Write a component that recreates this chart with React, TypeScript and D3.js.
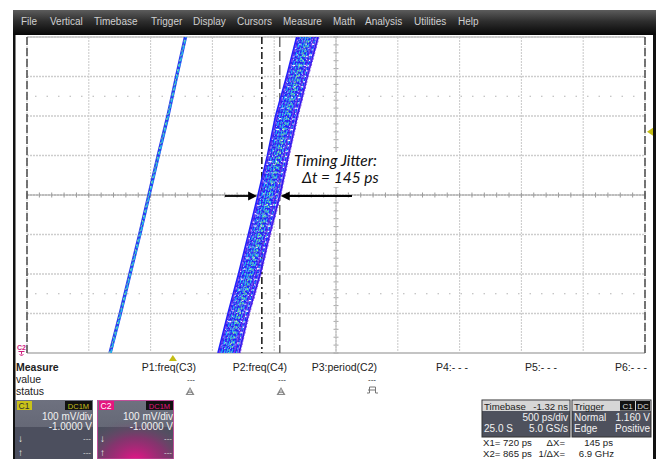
import React from 'react';
import * as d3 from 'd3';

// ---------- screen data ----------
const menuItems = ['File', 'Vertical', 'Timebase', 'Trigger', 'Display', 'Cursors', 'Measure', 'Math', 'Analysis', 'Utilities', 'Help'];

// time axis (ps) and vertical settings
const timeCenterPs = 1320;
const psPerDiv = 500;
const mvPerDiv = 100;
const offsetV = -1.0;
const triggerLevelV = 1.16;
const triggerTimePs = 0;

// cursors (ps)
const cursorX1 = 720;
const cursorX2 = 865;

// voltage levels (V) at which each captured edge is sampled
const levelsV = [0.6, 0.7, 0.8, 0.9, 1.0, 1.1, 1.2, 1.3, 1.4];

// C1 reference edge: crossing time (ps) per level, three overlapping captures
const refEdge = [
  [-508, -425, -347, -268, -193, -118, -40, 30, 102],
  [-502, -421, -343, -263, -190, -113, -37, 34, 106],
  [-512, -428, -350, -272, -196, -122, -44, 27, 99],
];

// jittered edge captures: crossing time (ps) per level
const jitterEdges = [
  [366, 447, 532, 612, 690, 766, 832, 921, 1003],
  [378, 455, 548, 624, 706, 774, 848, 929, 1016],
  [386, 470, 556, 640, 714, 790, 857, 944, 1027],
  [400, 476, 570, 646, 728, 796, 870, 952, 1038],
  [409, 492, 579, 661, 736, 812, 878, 966, 1048],
  [422, 498, 592, 668, 750, 818, 892, 974, 1060],
  [428, 512, 598, 682, 756, 832, 898, 987, 1068],
  [442, 518, 612, 688, 770, 838, 912, 993, 1081],
  [448, 532, 618, 702, 776, 852, 918, 1007, 1087],
  [462, 538, 632, 708, 790, 858, 932, 1013, 1100],
  [468, 552, 638, 722, 796, 872, 938, 1027, 1107],
  [482, 558, 652, 728, 810, 878, 952, 1033, 1121],
  [489, 574, 660, 744, 818, 894, 960, 1049, 1129],
  [506, 582, 676, 752, 834, 902, 976, 1057, 1145],
  [514, 600, 686, 770, 844, 920, 986, 1075, 1155],
  [536, 612, 706, 782, 866, 934, 1006, 1087, 1175],
];

const measureHeaders = ['P1:freq(C3)', 'P2:freq(C4)', 'P3:period(C2)', 'P4:- - -', 'P5:- - -', 'P6:- - -'];
const measureValues = ['---', '---', '---', '', '', ''];

const jitterTitle = 'Timing Jitter:';

// ---------- layout ----------
const W = 660;
const H = 459;
const plot = { left: 27, right: 645, top: 37, bottom: 353 };
const menuLayoutX = [21, 50, 94, 151, 193, 237, 283, 333, 365, 414, 458];
const measureRightX = [196, 287, 377, 468, 557, 647];
const uiFont = "'Liberation Sans', Arial, sans-serif";

const x = d3.scaleLinear()
  .domain([timeCenterPs - 5 * psPerDiv, timeCenterPs + 5 * psPerDiv])
  .range([plot.left, plot.right]);
const centerV = -offsetV;
const y = d3.scaleLinear()
  .domain([centerV - 4 * mvPerDiv / 1000, centerV + 4 * mvPerDiv / 1000])
  .range([plot.bottom, plot.top]);

const edgeLine = d3.line<number>()
  .x((t) => x(t))
  .y((_, i) => y(levelsV[i]));

const baseColors = ['#1e22ff', '#3a1ee6', '#1a2cff', '#2a1af0'];
const baseDash = [undefined, '7 1.5', '5 1 2 1', '9 2', '4 1.5'];
const overlayColors = ['#7a3ce6', '#5e6cff', '#20c4ee', '#7a3ce6', '#2ad0e8', '#6a48f0', '#26c6ea', '#8ee88a',
  '#22c8ee', '#9be69a', '#2bc2ea', '#5f5cff', '#7a3ce6', '#24beea', '#6d44ee', '#7a3ce6'];
const overlayDash = ['3 2', '2 3', '4 2 1 2', '1 2', '3 1', '2 2 1 3', '5 2', '1 1 2 2'];

export default function App() {
  const vTicks = d3.range(0, 11).map((k) => x.domain()[0] + k * psPerDiv);
  const hTicks = d3.range(0, 9).map((k) => y.domain()[0] + (k * mvPerDiv) / 1000);
  const minorX = d3.range(0, 51).map((k) => x.domain()[0] + (k * psPerDiv) / 5);
  const minorY = d3.range(0, 41).map((k) => y.domain()[0] + (k * mvPerDiv) / 5000);
  const cx = x(timeCenterPs);
  const cy = y(centerV);
  const deltaX = cursorX2 - cursorX1;
  const invDelta = (1000 / deltaX).toFixed(1);

  return (
    <svg width={W} height={H} style={{ position: 'absolute', left: 0, top: 0, background: '#fff' }}
      fontFamily={uiFont}>
      <defs>
        <linearGradient id="menuGrad" x1="0" y1="0" x2="0" y2="1">
          <stop offset="0" stopColor="#5c5c5c" />
          <stop offset="0.45" stopColor="#2e2e2e" />
          <stop offset="1" stopColor="#070707" />
        </linearGradient>
        <linearGradient id="chanGrad" x1="0" y1="0" x2="0" y2="1">
          <stop offset="0" stopColor="#6e717f" />
          <stop offset="1" stopColor="#5b5e6c" />
        </linearGradient>
        <radialGradient id="magGlow" cx="0.5" cy="1.05" r="0.75">
          <stop offset="0" stopColor="#f0108a" stopOpacity="1" />
          <stop offset="0.55" stopColor="#b0207a" stopOpacity="0.55" />
          <stop offset="1" stopColor="#5b5e6c" stopOpacity="0" />
        </radialGradient>
        <clipPath id="plotClip">
          <rect x={plot.left} y={plot.top} width={plot.right - plot.left} height={plot.bottom - plot.top} />
        </clipPath>
      </defs>

      {/* window frame */}
      <rect x={13} y={10} width={643} height={25} fill="url(#menuGrad)" />
      {menuItems.map((m, i) => (
        <text key={m} x={menuLayoutX[i]} y={25} fontSize={10} fill="#d0d0d0">{m}</text>
      ))}
      <rect x={13} y={35} width={2.5} height={H - 35} fill="#111" />
      <rect x={653} y={35} width={3} height={H - 35} fill="#111" />

      {/* graticule */}
      <g>
        {hTicks.map((v) => (
          <line key={'h' + v} x1={plot.left} x2={plot.right} y1={y(v)} y2={y(v)}
            stroke="#cdcdcd" strokeWidth={1.3} strokeDasharray="2 1" />
        ))}
        {vTicks.map((t) => (
          <line key={'v' + t} x1={x(t)} x2={x(t)} y1={plot.top} y2={plot.bottom}
            stroke="#cdcdcd" strokeWidth={1.1} strokeDasharray="2 1" />
        ))}
        <line x1={plot.left} x2={plot.right} y1={plot.top} y2={plot.top} stroke="#c4c4c4" strokeWidth={1.5} />
        <line x1={plot.left} x2={plot.right} y1={plot.bottom} y2={plot.bottom} stroke="#c4c4c4" strokeWidth={2} />
        {[centerV + 0.25, centerV - 0.25].map((v) => (
          <line key={'d' + v} x1={plot.left + 8} x2={plot.right} y1={y(v)} y2={y(v)}
            stroke="#b4b4b4" strokeWidth={1.2} strokeDasharray="1.5 10" />
        ))}
        {minorX.map((t) => (
          <line key={'mx' + t} x1={x(t)} x2={x(t)} y1={cy - 2.5} y2={cy + 2.5} stroke="#9a9a9a" strokeWidth={1} />
        ))}
        {minorY.map((v) => (
          <line key={'my' + v} x1={cx - 2.5} x2={cx + 2.5} y1={y(v)} y2={y(v)} stroke="#a8a8a8" strokeWidth={1} />
        ))}
        <line x1={plot.left} x2={plot.right} y1={cy} y2={cy} stroke="#a0a0a0" strokeWidth={1.2} />
        <line x1={cx} x2={cx} y1={plot.top} y2={plot.bottom} stroke="#bdbdbd" strokeWidth={1.1} />
        <line x1={plot.left} x2={plot.left} y1={plot.top} y2={plot.bottom} stroke="#555" strokeWidth={1.6} strokeDasharray="8 3" />
        <line x1={plot.right} x2={plot.right} y1={plot.top} y2={plot.bottom} stroke="#555" strokeWidth={1.6} strokeDasharray="8 3" />
      </g>

      {/* cursors */}
      <line x1={x(cursorX1)} x2={x(cursorX1)} y1={plot.top} y2={plot.bottom} stroke="#222" strokeWidth={1.6} strokeDasharray="7 3 2 3" />
      <line x1={x(cursorX2)} x2={x(cursorX2)} y1={plot.top} y2={plot.bottom} stroke="#6a6a6a" strokeWidth={1.5} strokeDasharray="10 4" />

      {/* waveforms */}
      <g clipPath="url(#plotClip)" fill="none" strokeLinejoin="round">
        {refEdge.map((e, i) => (
          <path key={'r' + i} d={edgeLine(e) || ''}
            stroke={i === 0 ? '#2a3cf0' : i === 1 ? '#22b8e8' : '#80e0a0'}
            strokeWidth={i === 0 ? 3.4 : i === 1 ? 1.6 : 1}
            strokeDasharray={i === 0 ? undefined : i === 1 ? '4 2' : '2 3'} />
        ))}
        {jitterEdges.map((e, i) => (
          <path key={'jb' + i} d={edgeLine(e) || ''} stroke={baseColors[i % baseColors.length]}
            strokeWidth={1.9} strokeDasharray={baseDash[i % baseDash.length]} />
        ))}
        {jitterEdges.map((e, i) => (
          <path key={'jo' + i} d={edgeLine(e) || ''} stroke={overlayColors[i]} strokeWidth={1.1}
            strokeDasharray={overlayDash[i % overlayDash.length]} transform="translate(1,0)" />
        ))}
      </g>

      {/* trigger markers */}
      <path d={`M${plot.right + 2},${y(triggerLevelV)} l6,-4 v8 z`} fill="#c4bd14" />
      <path d={`M${x(triggerTimePs)},${plot.bottom + 2} l-4,6 h8 z`} fill="#c4bd14" />
      <text x={17} y={350} fontSize={7} fill="#d0207f" fontWeight="bold">C2</text>
      <path d="M18.5,351.5 h6 M21.5,351.5 v3 M19.5,354 l2,2 l2,-2" stroke="#d0207f" strokeWidth={1} fill="none" />

      {/* annotation */}
      <rect x={291} y={152} width={106} height={35} fill="#fff" />
      <text x={294} y={166} fontSize={15.5} fontStyle="italic" fontFamily="Lato, 'Open Sans', sans-serif" fill="#111">{jitterTitle}</text>
      <text x={302} y={183} fontSize={15.5} fontStyle="italic" fontFamily="Lato, 'Open Sans', sans-serif" fill="#111">{`Δt = ${deltaX} ps`}</text>
      <line x1={225} x2={x(690) - 8} y1={cy + 1} y2={cy + 1} stroke="#000" strokeWidth={1.8} />
      <path d={`M${x(690) - 1},${cy + 1} l-9,-4.5 v9 z`} fill="#000" />
      <line x1={352} x2={x(cursorX2) + 8} y1={cy + 1} y2={cy + 1} stroke="#000" strokeWidth={1.8} />
      <path d={`M${x(cursorX2) + 1},${cy + 1} l9,-4.5 v9 z`} fill="#000" />

      {/* measurement table */}
      <g fontSize={10.5} fill="#222">
        <text x={16} y={371} fontWeight="bold">Measure</text>
        <text x={16} y={383}>value</text>
        <text x={16} y={395}>status</text>
        {measureHeaders.map((h, i) => (
          <text key={h} x={measureRightX[i]} y={371} textAnchor="end">{h}</text>
        ))}
        {measureValues.map((v, i) => v ? (
          <text key={'mv' + i} x={measureRightX[i] - 1} y={382} textAnchor="end" fontSize={8}>{v}</text>
        ) : null)}
        {[0, 1].map((i) => (
          <g key={'st' + i} transform={`translate(${measureRightX[i] - 6},392)`}>
            <path d="M0,-5 l4.5,8 h-9 z" fill="#8a8a8a" />
            <path d="M-2,1.5 h4 M0,-2.5 v3" stroke="#eee" strokeWidth={1} />
          </g>
        ))}
        <path d={`M${measureRightX[2] - 10},393 h2.5 v-6 h6 v6 h2.5 M${measureRightX[2] - 9},390 h8`}
          stroke="#777" strokeWidth={1} fill="none" />
      </g>

      {/* channel descriptors */}
      <g fontSize={10}>
        <rect x={15} y={400} width={78} height={59} fill="url(#chanGrad)" />
        <rect x={15} y={427} width={78} height={32} fill="#4c4f5e" />
        <rect x={17} y={401} width={15} height={9} fill="#c9c21a" />
        <text x={18.5} y={408.5} fontSize={8.5} fill="#333">C1</text>
        <rect x={65} y={401} width={27} height={9} fill="#111" />
        <text x={78.5} y={408.5} fontSize={7.5} fill="#c9c21a" textAnchor="middle">DC1M</text>
        <text x={92} y={419.5} fill="#f2f2f2" textAnchor="end">100 mV/div</text>
        <text x={92} y={430} fill="#f2f2f2" textAnchor="end">{offsetV.toFixed(4)} V</text>
        <text x={18} y={442} fill="#eee">↓</text>
        <text x={91} y={441} fill="#ddd" fontSize={8} textAnchor="end">---</text>
        <text x={18} y={456} fill="#eee">↑</text>
        <text x={91} y={455} fill="#ddd" fontSize={8} textAnchor="end">---</text>

        <rect x={97} y={400} width={77} height={59} fill="url(#chanGrad)" />
        <rect x={97} y={427} width={77} height={32} fill="#4c4f5e" />
        <rect x={97} y={400} width={77} height={59} fill="url(#magGlow)" />
        <rect x={97.5} y={400.5} width={76} height={58.5} fill="none" stroke="#c0509a" strokeWidth={1} />
        <rect x={99} y={401} width={15} height={9} fill="#e4167f" />
        <text x={100.5} y={408.5} fontSize={8.5} fill="#fff">C2</text>
        <rect x={146} y={401} width={27} height={9} fill="#111" />
        <text x={159.5} y={408.5} fontSize={7.5} fill="#e4167f" textAnchor="middle">DC1M</text>
        <text x={173} y={419.5} fill="#f2f2f2" textAnchor="end">100 mV/div</text>
        <text x={173} y={430} fill="#f2f2f2" textAnchor="end">{offsetV.toFixed(4)} V</text>
        <text x={100} y={442} fill="#eee">↓</text>
        <text x={172} y={441} fill="#ddd" fontSize={8} textAnchor="end">---</text>
        <text x={100} y={456} fill="#eee">↑</text>
        <text x={172} y={455} fill="#ddd" fontSize={8} textAnchor="end">---</text>
      </g>

      {/* timebase & trigger descriptors */}
      <g fontSize={10}>
        <rect x={482} y={400} width={88} height={37} fill="#4e515d" stroke="#333" strokeWidth={1} />
        <rect x={482.5} y={400.5} width={87} height={10.5} fill="#d6d6d6" />
        <text x={484} y={409.5} fill="#222" fontSize={9.6}>Timebase</text>
        <text x={568} y={409.5} fill="#222" fontSize={9.6} textAnchor="end">{`${(-timeCenterPs / 1000).toFixed(2)} ns`}</text>
        <text x={568} y={421} fill="#f2f2f2" textAnchor="end">{psPerDiv} ps/div</text>
        <text x={484} y={432} fill="#f2f2f2">25.0 S</text>
        <text x={568} y={432} fill="#f2f2f2" textAnchor="end">5.0 GS/s</text>

        <rect x={572} y={400} width={79} height={37} fill="#4e515d" stroke="#333" strokeWidth={1} />
        <rect x={572.5} y={400.5} width={78} height={10.5} fill="#d6d6d6" />
        <text x={574} y={409.5} fill="#222" fontSize={9.6}>Trigger</text>
        <rect x={620} y={401} width={15} height={9.5} fill="#111" />
        <text x={627.5} y={409} fontSize={8} fill="#ddd" textAnchor="middle">C1</text>
        <rect x={636} y={401} width={14} height={9.5} fill="#111" />
        <text x={643} y={409} fontSize={8} fill="#ddd" textAnchor="middle">DC</text>
        <text x={574} y={421} fill="#f2f2f2">Normal</text>
        <text x={650} y={421} fill="#f2f2f2" textAnchor="end">{triggerLevelV.toFixed(3)} V</text>
        <text x={574} y={432} fill="#f2f2f2">Edge</text>
        <text x={650} y={432} fill="#f2f2f2" textAnchor="end">Positive</text>
      </g>

      {/* cursor readout */}
      <g fontSize={9.6} fill="#222">
        <text x={483} y={446}>{`X1= ${cursorX1} ps`}</text>
        <text x={565} y={446} textAnchor="end">ΔX=</text>
        <text x={613} y={446} textAnchor="end">{deltaX} ps</text>
        <text x={483} y={457}>{`X2= ${cursorX2} ps`}</text>
        <text x={565} y={457} textAnchor="end">1/ΔX=</text>
        <text x={614} y={457} textAnchor="end">{invDelta} GHz</text>
      </g>
    </svg>
  );
}
